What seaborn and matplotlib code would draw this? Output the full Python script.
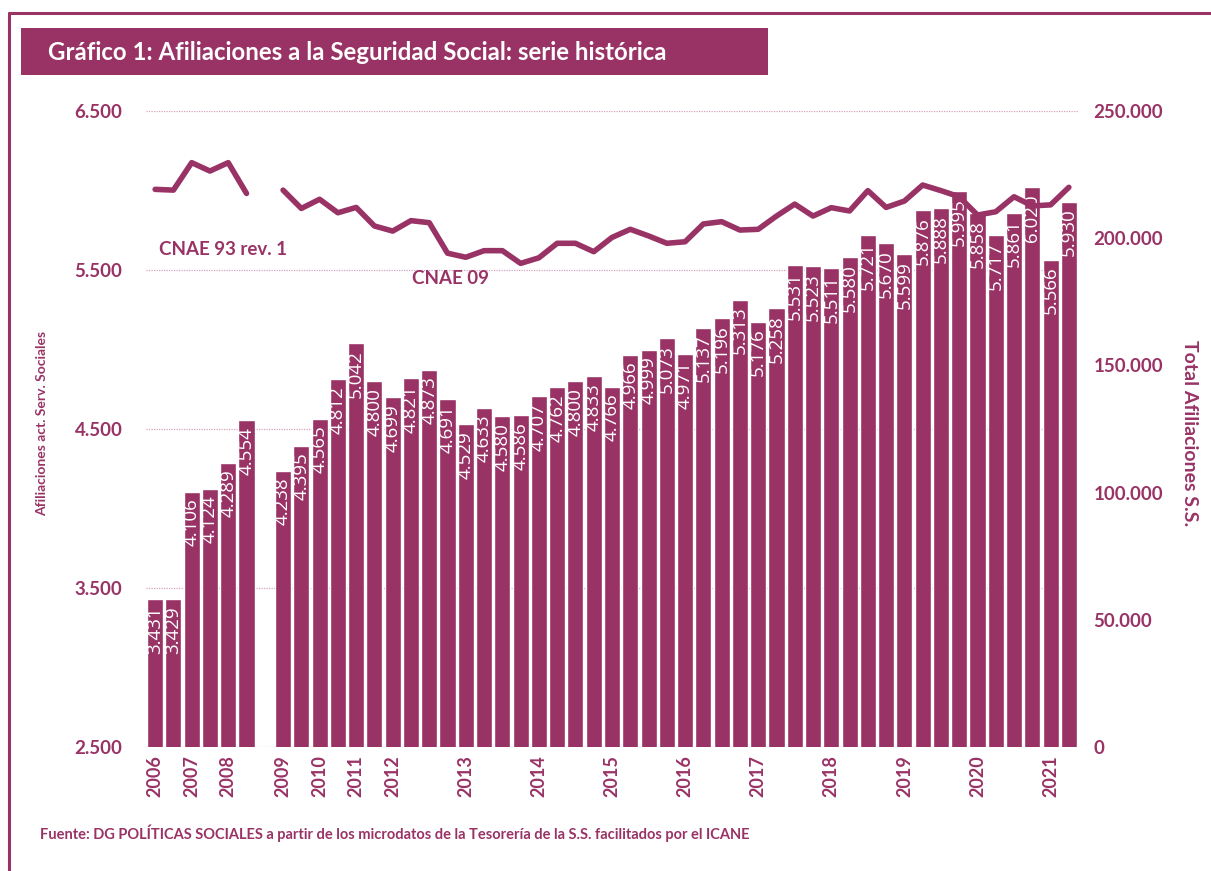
import numpy as np
import pandas as pd
import matplotlib.pyplot as plt
import seaborn as sns
from matplotlib.patches import Rectangle
from matplotlib.lines import Line2D
from matplotlib.ticker import FuncFormatter

# datos (un hueco en el cambio de CNAE)
periodo = list(range(51))
afil_serv_sociales = [3431, 3429, 4106, 4124, 4289, 4554, np.nan,
                      4238, 4395, 4565, 4812, 5042, 4800, 4699, 4821, 4873, 4691,
                      4529, 4633, 4580, 4586, 4707, 4762, 4800, 4833, 4766,
                      4966, 4999, 5073, 4971, 5137, 5196, 5313, 5176, 5258,
                      5531, 5523, 5511, 5580, 5721, 5670, 5599,
                      5876, 5888, 5995, 5858, 5717, 5861, 6020, 5566, 5930]
total_afiliaciones = [219200, 218900, 229700, 226400, 229700, 217600, np.nan,
                      218900, 211700, 215300, 210000, 212100, 204800, 202800, 206900, 206100, 194100,
                      192500, 195100, 195100, 190100, 192300, 198000, 198000, 194700, 200300,
                      203500, 200900, 198000, 198600, 205600, 206500, 203200, 203500, 208700,
                      213400, 208700, 212000, 210700, 218700, 212100, 214600,
                      220900, 218700, 216300, 209100, 210400, 216300, 212700, 213100, 220000]
cnae = ['CNAE 93 rev. 1'] * 6 + [None] + ['CNAE 09'] * 44
anios = ['2006', '2007', '2008', '2009', '2010', '2011', '2012', '2013',
         '2014', '2015', '2016', '2017', '2018', '2019', '2020', '2021']
periodo_anios = [0, 2, 4, 7, 9, 11, 13, 17, 21, 25, 29, 33, 37, 41, 45, 49]

morado = '#993366'
rosa_grid = '#d9a3c0'

df = pd.DataFrame({'periodo': periodo, 'afil': afil_serv_sociales,
                   'total': total_afiliaciones, 'cnae': cnae})

sns.set_style('white')
plt.rcParams['font.family'] = ['Lato', 'DejaVu Sans']
plt.rcParams['font.weight'] = 'bold'

fig, ax = plt.subplots(figsize=(12.11, 8.71), dpi=100)
fig.subplots_adjust(left=146 / 1211, right=1078 / 1211, bottom=1 - 747 / 871, top=1 - 111 / 871)

sns.barplot(data=df, x='periodo', y='afil', order=periodo, color=morado,
            saturation=1, width=0.88, ax=ax)

for bar in ax.containers[0]:
    h = bar.get_height()
    if np.isnan(h):
        continue
    ax.annotate(f'{h:,.0f}'.replace(',', '.'), (bar.get_x() + bar.get_width() / 2, h),
                xytext=(0, -5), textcoords='offset points', rotation=90,
                ha='center', va='top', color='white', fontsize=13.5,
                family=['Open Sans', 'DejaVu Sans'], fontweight='normal')

ax.set_ylim(2500, 6500)
ax.set_yticks([2500, 3500, 4500, 5500, 6500])
ax.yaxis.set_major_formatter(FuncFormatter(lambda v, p: f'{v:,.0f}'.replace(',', '.')))
ax.yaxis.grid(True, color=rosa_grid, linestyle=(0, (1, 1)), lw=0.9)
ax.set_axisbelow(True)
ax.set_xticks(periodo_anios)
ax.set_xticklabels(anios, rotation=90)
ax.set_xlabel('')
ax.set_ylabel('')
ax.tick_params(axis='y', length=0, pad=17, labelsize=13.5, labelcolor=morado)
ax.tick_params(axis='x', length=0, pad=6, labelsize=13, labelcolor=morado)
sns.despine(ax=ax, left=True, bottom=True)

# linea de total afiliaciones en el eje derecho
ax2 = ax.twinx()
sns.lineplot(data=df.dropna(subset=['total']), x='periodo', y='total', units='cnae',
             estimator=None, color=morado, lw=4, ax=ax2, legend=False)
ax2.set_ylim(0, 250000)
ax2.set_yticks(range(0, 250001, 50000))
ax2.yaxis.set_major_formatter(FuncFormatter(lambda v, p: f'{v:,.0f}'.replace(',', '.')))
ax2.tick_params(axis='y', length=0, pad=11, labelsize=13.5, labelcolor=morado)
ax2.set_ylabel('')
ax2.grid(False)
for s in ax2.spines.values():
    s.set_visible(False)
ax.set_xlim(-0.5, 50.5)

ax2.text(0.2, 195400, 'CNAE 93 rev. 1', color=morado, fontsize=13.5,
         ha='left', va='center')
ax2.text(14.05, 184000, 'CNAE 09', color=morado, fontsize=13.5,
         ha='left', va='center')

fig.text(42 / 1211, 1 - 423 / 871, 'Afiliaciones act. Serv. Sociales', rotation=90,
         ha='center', va='center', color=morado, fontsize=10)
fig.text(1190 / 1211, 1 - 433 / 871, 'Total Afiliaciones S.S.', rotation=-90,
         ha='center', va='center', color=morado, fontsize=14)

# marco y titulo
fig.add_artist(Line2D([9 / 1211, 1], [1 - 13 / 871, 1 - 13 / 871], transform=fig.transFigure,
                      color=morado, lw=2.2))
fig.add_artist(Line2D([9 / 1211, 9 / 1211], [0, 1 - 13 / 871], transform=fig.transFigure,
                      color=morado, lw=2.2))
fig.add_artist(Rectangle((21 / 1211, 1 - 75 / 871), (768 - 21) / 1211, 47 / 871,
                         transform=fig.transFigure, color=morado, lw=0))
fig.text(48 / 1211, 1 - 52 / 871, 'Gráfico 1: Afiliaciones a la Seguridad Social: serie histórica',
         color='white', fontsize=17.3, ha='left', va='center')

fig.text(40 / 1211, 1 - 833 / 871,
         'Fuente: DG POLÍTICAS SOCIALES a partir de los microdatos de la Tesorería de la S.S. facilitados por el ICANE',
         color=morado, fontsize=10.5, ha='left', va='center')

fig.savefig('out.png', dpi=100)
